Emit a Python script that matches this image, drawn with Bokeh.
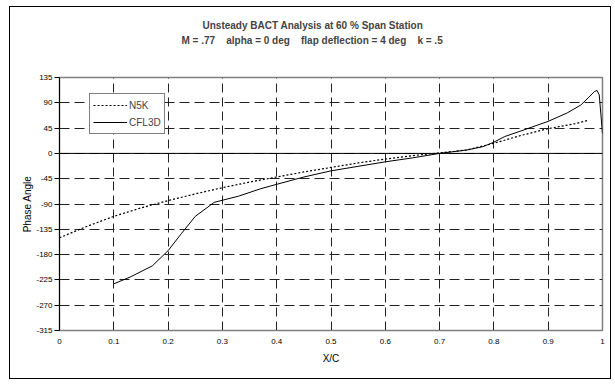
from bokeh.plotting import figure
from bokeh.models import FixedTicker, Span, Title, Legend
from bokeh.embed import file_html
from bokeh.resources import INLINE

# ---- data ----
n5k_x = [0.0, 0.05, 0.1, 0.15, 0.2, 0.25, 0.3, 0.35, 0.4, 0.45, 0.5, 0.55, 0.6, 0.65, 0.7, 0.75, 0.8, 0.85, 0.9, 0.95, 0.975]
n5k_y = [-150, -130, -112, -97, -84, -72, -61, -51, -42, -33, -25, -17, -10, -4, 1, 6, 18, 32, 44, 53, 59]

cfl_x = [0.1, 0.13, 0.171, 0.2, 0.225, 0.25, 0.285, 0.33, 0.37, 0.4, 0.45, 0.5, 0.55, 0.6, 0.65, 0.7,
         0.75, 0.78, 0.8, 0.82, 0.85, 0.9, 0.935, 0.96, 0.975, 0.985, 0.99, 0.994, 0.997, 1.0]
cfl_y = [-232, -220, -200, -173, -142, -112, -87, -76, -63, -55, -42, -31, -23, -15, -8, 0,
         6, 12, 20, 30, 40, 57, 72, 86, 100, 110, 112, 104, 70, 35]

y_ticks = [-315, -270, -225, -180, -135, -90, -45, 0, 45, 90, 135]
y_tick_labels = ["-315", "-270", "-225", "-180", "-135", "-90", "-45", "0", "45", "90", "135"]
x_ticks = [0, 0.1, 0.2, 0.3, 0.4, 0.5, 0.6, 0.7, 0.8, 0.9, 1.0]
x_tick_labels = ["0", "0.1", "0.2", "0.3", "0.4", "0.5", "0.6", "0.7", "0.8", "0.9", "1"]

GAP = "\u00a0\u00a0\u00a0 "
title1 = "Unsteady BACT Analysis at 60 % Span Station"
title2 = "M = .77" + GAP + "alpha = 0 deg" + GAP + "flap deflection = 4 deg" + GAP + "k = .5"
series_names = ["N5K", "CFL3D"]

FONT = "Liberation Sans"

p = figure(width=602, height=373, x_range=(0, 1), y_range=(-315, 135),
           output_backend="svg", toolbar_location=None,
           min_border_left=49, min_border_right=10, min_border_top=70, min_border_bottom=50)
p.styles = {"border": "1px solid black", "margin-left": "9px", "margin-top": "6px"}
p.background_fill_color = "white"
p.border_fill_color = "white"
p.outline_line_color = "#808080"
p.outline_line_width = 1.5

# axes
p.yaxis.ticker = FixedTicker(ticks=y_ticks)
p.yaxis.major_label_overrides = {t: l for t, l in zip(y_ticks, y_tick_labels)}
p.xaxis.ticker = FixedTicker(ticks=x_ticks)
p.xaxis.major_label_overrides = {t: l for t, l in zip(x_ticks, x_tick_labels)}
for ax in (p.xaxis[0], p.yaxis[0]):
    ax.major_label_text_font = FONT
    ax.major_label_text_font_size = "8px"
    ax.major_label_text_color = "black"
    ax.axis_label_text_font = FONT
    ax.axis_label_text_font_size = "10px"
    ax.axis_label_text_font_style = "normal"
    ax.axis_label_text_color = "black"
    ax.minor_tick_line_color = None
    ax.major_tick_in = 0

p.yaxis.axis_label = "Phase Angle"
p.yaxis.axis_line_color = "black"
p.yaxis.major_tick_out = 5
p.yaxis.major_tick_line_color = "black"
p.yaxis.major_label_standoff = 2
p.yaxis.axis_label_standoff = 0

p.xaxis.axis_label = "X/C"
p.xaxis.axis_line_color = "#808080"
p.xaxis.major_tick_out = 0
p.xaxis.major_tick_line_color = None
p.xaxis.major_label_standoff = 8
p.xaxis.axis_label_standoff = 6

# grids
p.xgrid.grid_line_color = "#222222"
p.xgrid.grid_line_dash = "9 5"
p.xgrid.grid_line_width = 1
p.ygrid.grid_line_color = "#222222"
p.ygrid.grid_line_dash = "10 5"
p.ygrid.grid_line_width = 1

p.add_layout(Span(location=0, dimension="width", line_color="black", line_width=1))

# series
r1 = p.line(n5k_x, n5k_y, line_color="black", line_width=1.2, line_dash="2 2")
r2 = p.line(cfl_x, cfl_y, line_color="black", line_width=1)

legend = Legend(items=[(series_names[0], [r1]), (series_names[1], [r2])],
                location=(30, 196), orientation="vertical")
legend.border_line_color = "black"
legend.border_line_width = 1
legend.background_fill_color = "white"
legend.background_fill_alpha = 1
legend.label_text_font = FONT
legend.label_text_font_size = "10px"
legend.glyph_width = 34
legend.glyph_height = 16
legend.label_height = 16
legend.label_standoff = 2
legend.padding = 3
legend.spacing = 1
legend.margin = 0
p.add_layout(legend, "center")

# titles (spacer first, nearest the frame)
p.add_layout(Title(text="\u00a0", text_font=FONT, text_font_size="10px", standoff=18), "above")
p.add_layout(Title(text=title2, align="left", offset=122, text_font=FONT,
                   text_font_size="10px", text_font_style="bold", standoff=2), "above")
p.add_layout(Title(text=title1, align="left", offset=143, text_font=FONT,
                   text_font_size="10px", text_font_style="bold", standoff=2), "above")

open("out.html", "w").write(file_html(p, INLINE))
